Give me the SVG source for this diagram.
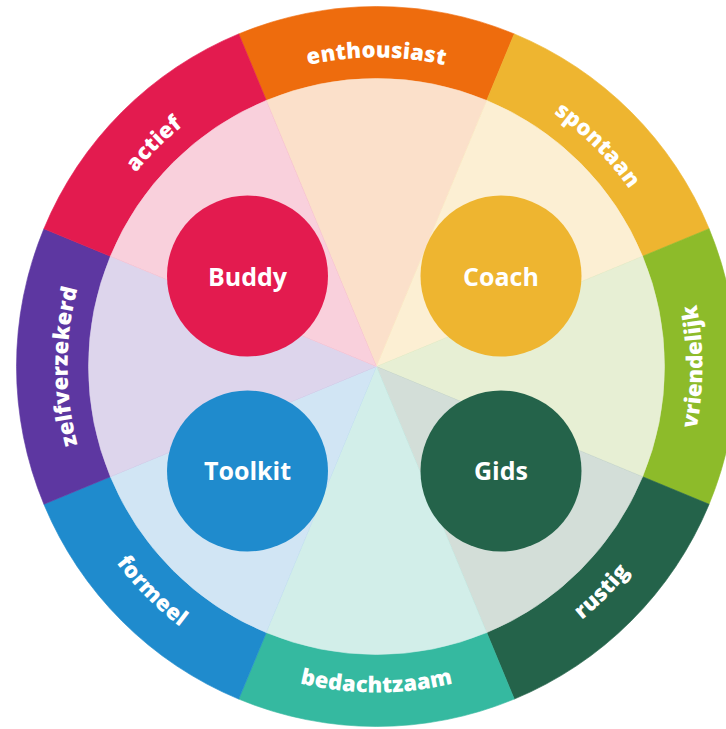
<svg xmlns="http://www.w3.org/2000/svg" xmlns:xlink="http://www.w3.org/1999/xlink" width="726" height="729" viewBox="0 0 726 729">
<style>
.band{font-family:"Open Sans","Noto Sans",sans-serif;font-weight:800;font-size:22px;fill:#fff;letter-spacing:0.2px}
.node text{font-family:"Open Sans","Noto Sans",sans-serif;font-weight:700;font-size:25px;fill:#fff;text-anchor:middle}
</style>
<defs>
<path id="wo" d="M0 0 L-137.766 -332.597 A360 360 0 0 1 137.766 -332.597 Z"/>
<path id="wi" d="M0 0 L-110.213 -266.077 A288 288 0 0 1 110.213 -266.077 Z"/>
<path id="top" d="M-309 0 A309 309 0 0 1 309 0"/>
<path id="bot" d="M-326 0 A326 326 0 0 0 326 0"/>
</defs>
<rect width="726" height="729" fill="#fff"/>
<g id="wheel" transform="translate(376.5 366.5)">
<use xlink:href="#wo" fill="#EE6C0D" stroke="#EE6C0D" stroke-width="0.6"/>
<use xlink:href="#wo" transform="rotate(45)" fill="#EEB530" stroke="#EEB530" stroke-width="0.6"/>
<use xlink:href="#wo" transform="rotate(90)" fill="#8DBB2A" stroke="#8DBB2A" stroke-width="0.6"/>
<use xlink:href="#wo" transform="rotate(135)" fill="#24634A" stroke="#24634A" stroke-width="0.6"/>
<use xlink:href="#wo" transform="rotate(180)" fill="#35B9A0" stroke="#35B9A0" stroke-width="0.6"/>
<use xlink:href="#wo" transform="rotate(225)" fill="#1F8BCD" stroke="#1F8BCD" stroke-width="0.6"/>
<use xlink:href="#wo" transform="rotate(270)" fill="#5D37A1" stroke="#5D37A1" stroke-width="0.6"/>
<use xlink:href="#wo" transform="rotate(315)" fill="#E31B4F" stroke="#E31B4F" stroke-width="0.6"/>
<use xlink:href="#wi" fill="#FBE0CA" stroke="#FBE0CA" stroke-width="0.6"/>
<use xlink:href="#wi" transform="rotate(45)" fill="#FCEFD3" stroke="#FCEFD3" stroke-width="0.6"/>
<use xlink:href="#wi" transform="rotate(90)" fill="#E7EFD4" stroke="#E7EFD4" stroke-width="0.6"/>
<use xlink:href="#wi" transform="rotate(135)" fill="#D3DED8" stroke="#D3DED8" stroke-width="0.6"/>
<use xlink:href="#wi" transform="rotate(180)" fill="#D2EEE9" stroke="#D2EEE9" stroke-width="0.6"/>
<use xlink:href="#wi" transform="rotate(225)" fill="#D1E5F4" stroke="#D1E5F4" stroke-width="0.6"/>
<use xlink:href="#wi" transform="rotate(270)" fill="#DDD5EC" stroke="#DDD5EC" stroke-width="0.6"/>
<use xlink:href="#wi" transform="rotate(315)" fill="#F9D0DC" stroke="#F9D0DC" stroke-width="0.6"/>
<g id="lbl-enthousiast"><text class="band"><textPath xlink:href="#top" startOffset="50%" text-anchor="middle">enthousiast</textPath></text></g>
<g id="lbl-spontaan" transform="rotate(45)"><text class="band"><textPath xlink:href="#top" startOffset="50%" text-anchor="middle">spontaan</textPath></text></g>
<g id="lbl-vriendelijk" transform="rotate(-90)"><text class="band"><textPath xlink:href="#bot" startOffset="50%" text-anchor="middle">vriendelijk</textPath></text></g>
<g id="lbl-rustig" transform="rotate(-45)"><text class="band"><textPath xlink:href="#bot" startOffset="50%" text-anchor="middle">rustig</textPath></text></g>
<g id="lbl-bedachtzaam"><text class="band"><textPath xlink:href="#bot" startOffset="50%" text-anchor="middle">bedachtzaam</textPath></text></g>
<g id="lbl-formeel" transform="rotate(45)"><text class="band"><textPath xlink:href="#bot" startOffset="50%" text-anchor="middle">formeel</textPath></text></g>
<g id="lbl-zelfverzekerd" transform="rotate(-90)"><text class="band"><textPath xlink:href="#top" startOffset="50%" text-anchor="middle">zelfverzekerd</textPath></text></g>
<g id="lbl-actief" transform="rotate(-45)"><text class="band"><textPath xlink:href="#top" startOffset="50%" text-anchor="middle">actief</textPath></text></g>
</g>
<g id="connectors"/>
<g id="buddy" class="node"><circle cx="247.5" cy="276" r="80.5" fill="#E31B4F"/><text x="247.5" y="286">Buddy</text></g>
<g id="coach" class="node"><circle cx="501" cy="276" r="80.5" fill="#EEB530"/><text x="501" y="286">Coach</text></g>
<g id="toolkit" class="node"><circle cx="247.5" cy="471" r="80.5" fill="#1F8BCD"/><text x="247.5" y="480">Toolkit</text></g>
<g id="gids" class="node"><circle cx="501" cy="471" r="80.5" fill="#24634A"/><text x="501" y="480">Gids</text></g>
</svg>
